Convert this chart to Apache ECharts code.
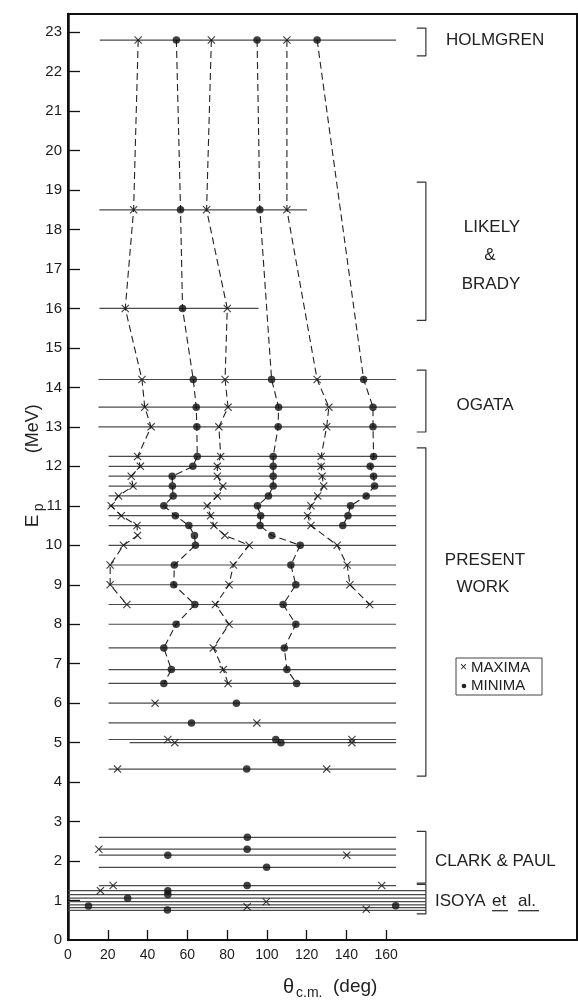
<!DOCTYPE html>
<html>
<head>
<meta charset="utf-8">
<script src="https://cdn.jsdelivr.net/npm/echarts@6/dist/echarts.min.js"></script>
<style>
html,body{margin:0;padding:0;background:#fff;}
#chart{width:578px;height:1000px;}
</style>
</head>
<body>
<div id="chart"></div>
<script>
// ---------------- data ----------------
const yTickValues = [0,1,2,3,4,5,6,7,8,9,10,11,12,13,14,15,16,17,18,19,20,21,22,23];
const xTickValues = [0,20,40,60,80,100,120,140,160];

// horizontal data lines: energy (MeV) and angular span (deg)
const holmgrenLevels = [22.8];
const holmgrenStart = [16];
const holmgrenEnd = [165];
const likelyLevels = [18.5, 16.0];
const likelyStart = [15.8, 15.8];
const likelyEnd = [120.2, 95.8];
const ogataLevels = [14.2, 13.5, 13.0];
const ogataStart = [15.3, 15.3, 15.3];
const ogataEnd = [165, 165, 165];
const presentLevels = [12.25,12.0,11.75,11.5,11.25,11.0,10.75,10.5,10.0,9.5,9.0,8.5,8.0,7.4,6.85,6.5,6.0,5.5,5.08,5.0,4.33];
const presentStart = [20.4,20.4,20.4,20.4,20.4,20.4,20.4,20.4,20.4,20.4,20.4,20.4,20.4,20.4,20.4,20.4,20.4,20.4,20.4,31,20.4];
const presentEnd = [165,165,165,165,165,165,165,165,165,165,165,165,165,165,165,165,165,165,165,165,165];
const clarkLevels = [2.6, 2.3, 2.15, 1.84, 1.38];
const clarkStart = [15.5, 15.5, 15.5, 15.5, 15.5];
const clarkEnd = [165, 165, 165, 165, 165];
const isoyaLevels = [1.25, 1.15, 1.06, 0.97, 0.89, 0.82, 0.75];
const isoyaStart = [0, 0, 0, 0, 0, 0, 0];
const isoyaEnd = [180, 180, 180, 180, 180, 180, 180];

// extrema branches (joined by dashed lines)
const branchE = [22.8,18.5,16.0,14.2,13.5,13.0,12.25,12.0,11.75,11.5,11.25,11.0,10.75,10.5,10.25,10.0,9.5,9.0,8.5,8.0,7.4,6.85,6.5];
const maxA1 = [35.3,33.0,28.8,37.2,38.6,41.8,35.0,36.4,31.8,32.7,25.4,21.7,26.8,34.7,35.0,27.9,21.2,21.2,29.6,null,null,null,null];
const minA1 = [54.5,56.6,57.6,63.0,64.5,64.8,65.0,62.8,52.4,52.5,52.9,48.2,54.0,60.8,63.6,64.1,53.5,53.2,63.8,54.4,48.2,52.0,48.2];
const maxA2 = [72.1,69.7,80.1,79.0,80.5,75.9,76.8,75.1,75.1,77.9,75.1,70.0,71.7,73.4,78.9,91.1,83.2,81.0,74.2,81.0,73.1,78.1,80.5];
const minA2 = [95.1,96.5,null,102.4,105.9,105.7,103.2,103.2,103.2,103.2,100.8,95.3,96.9,96.6,102.5,116.8,112.1,114.6,108.2,114.6,108.8,110.1,115.0];
const maxA3 = [110.1,110.1,null,125.3,131.2,130.1,127.3,127.3,127.8,128.6,125.6,122.2,120.5,122.2,null,135.4,140.4,141.8,151.7,null,null,null,null];
const minA3 = [125.3,null,null,148.7,153.4,153.4,153.7,152.0,153.7,154.2,150.0,142.1,140.8,138.2,null,null,null,null,null,null,null,null,null];
const parenMaxE = [11.0, 9.5, 9.0];   // maxima of branch 1 shown in parentheses

// isolated extrema
const loneMaxAngle = [43.8, 95.0, 50.2, 142.8, 53.7, 142.8, 24.9, 130.1];
const loneMaxE     = [6.0, 5.5, 5.08, 5.08, 5.0, 5.0, 4.33, 4.33];
const loneMinAngle = [84.7, 62.1, 104.5, 107.1, 89.9];
const loneMinE     = [6.0, 5.5, 5.08, 5.0, 4.33];
const clarkMaxAngle = [15.5, 140.2, 22.7, 157.8];
const clarkMaxE     = [2.3, 2.15, 1.38, 1.38];
const clarkMinAngle = [90.2, 90.1, 50.2, 99.9, 90.1];
const clarkMinE     = [2.6, 2.3, 2.15, 1.84, 1.38];
const isoyaMaxAngle = [16.3, 99.7, 90.1, 150.0];
const isoyaMaxE     = [1.25, 0.97, 0.84, 0.78];
const isoyaMinAngle = [50.2, 50.2, 30.0, 10.3, 164.8, 50.0];
const isoyaMinE     = [1.25, 1.15, 1.06, 0.86, 0.87, 0.76];

// group brackets: top and bottom energies
const bracketTop    = [23.1, 19.2, 14.44, 12.47, 2.75, 1.41];
const bracketBottom = [22.4, 15.7, 12.87, 4.15, 1.44, 0.66];
const bracketAngle  = [175.4, 180];

// group labels
const labelTexts = ['HOLMGREN','LIKELY','&','BRADY','OGATA','PRESENT','WORK','CLARK & PAUL','ISOYA'];
const labelE     = [22.8, 18.05, 17.35, 16.6, 13.55, 9.63, 8.94, 1.99, 0.97];
const legendTexts = ['MAXIMA', 'MINIMA'];

// ---------------- chart ----------------
const FONT = '"Liberation Sans", Arial, sans-serif';
const INK = '#1c1c1c';
const X_MAX = 256, Y_MAX = 23.46;
const CROSS = 'path://M1,0L5,4L9,0L10,1L6,5L10,9L9,10L5,6L1,10L0,9L4,5L0,1Z';

const chart = echarts.init(document.getElementById('chart'), null, {renderer: 'canvas'});
const series = [];

function addLevels(levels, starts, ends) {
  levels.forEach((e, i) => {
    series.push({
      type: 'line', silent: true, symbol: 'none', animation: false, z: 2,
      data: [[starts[i], e], [ends[i], e]],
      lineStyle: {width: 1.2, color: '#4a4a4a'}
    });
  });
}
addLevels(holmgrenLevels, holmgrenStart, holmgrenEnd);
addLevels(likelyLevels, likelyStart, likelyEnd);
addLevels(ogataLevels, ogataStart, ogataEnd);
addLevels(presentLevels, presentStart, presentEnd);
addLevels(clarkLevels, clarkStart, clarkEnd);
addLevels(isoyaLevels, isoyaStart, isoyaEnd);

const branches = [maxA1, minA1, maxA2, minA2, maxA3, minA3];
branches.forEach(arr => {
  const pts = [];
  arr.forEach((a, i) => { if (a !== null) pts.push([a, branchE[i]]); });
  series.push({
    type: 'line', silent: true, symbol: 'none', animation: false, z: 3,
    data: pts,
    lineStyle: {width: 1.1, color: '#222', type: [7, 4]}
  });
});

const maxPts = [], minPts = [], parenPts = [];
[maxA1, maxA2, maxA3].forEach(arr => arr.forEach((a, i) => { if (a !== null) maxPts.push([a, branchE[i]]); }));
[minA1, minA2, minA3].forEach(arr => arr.forEach((a, i) => { if (a !== null) minPts.push([a, branchE[i]]); }));
maxA1.forEach((a, i) => { if (a !== null && parenMaxE.includes(branchE[i])) parenPts.push([a, branchE[i]]); });
loneMaxAngle.forEach((a, i) => maxPts.push([a, loneMaxE[i]]));
clarkMaxAngle.forEach((a, i) => maxPts.push([a, clarkMaxE[i]]));
isoyaMaxAngle.forEach((a, i) => maxPts.push([a, isoyaMaxE[i]]));
loneMinAngle.forEach((a, i) => minPts.push([a, loneMinE[i]]));
clarkMinAngle.forEach((a, i) => minPts.push([a, clarkMinE[i]]));
isoyaMinAngle.forEach((a, i) => minPts.push([a, isoyaMinE[i]]));

series.push({type: 'scatter', silent: true, animation: false, z: 5, symbol: CROSS, symbolSize: 8,
  itemStyle: {color: '#111'}, data: maxPts});
series.push({type: 'scatter', silent: true, animation: false, z: 5, symbol: 'circle', symbolSize: 7.5,
  itemStyle: {color: '#111'}, data: minPts});
series.push({type: 'scatter', silent: true, animation: false, z: 6, symbol: 'none', symbolSize: 1,
  data: parenPts,
  label: {show: true, position: 'inside', formatter: '{p|(}{s|}{p|)}',
    rich: {p: {fontSize: 12, fontFamily: FONT, color: '#111'}, s: {width: 8}}}});

bracketTop.forEach((t, i) => {
  const b = bracketBottom[i];
  series.push({
    type: 'line', silent: true, symbol: 'none', animation: false, z: 2,
    data: [[bracketAngle[0], t], [bracketAngle[1], t], [bracketAngle[1], b], [bracketAngle[0], b]],
    lineStyle: {width: 1.2, color: '#333'}
  });
});

const option = {
  animation: false,
  backgroundColor: '#fff',
  grid: {left: 68, right: 1, top: 14, bottom: 60, show: true, borderColor: '#111', borderWidth: 2, backgroundColor: 'transparent'},
  xAxis: {
    type: 'value', min: 0, max: X_MAX, interval: 20,
    axisLine: {show: true, onZero: false, lineStyle: {color: '#111', width: 2}},
    axisTick: {show: true, inside: true, length: 10, lineStyle: {color: '#111', width: 1.3},
      customValues: xTickValues.filter(v => v > 0)},
    axisLabel: {show: true, customValues: xTickValues, margin: 8, fontSize: 14, fontFamily: FONT, color: INK},
    splitLine: {show: false}
  },
  yAxis: {
    type: 'value', min: 0, max: Y_MAX, interval: 1,
    axisLine: {show: true, onZero: false, lineStyle: {color: '#111', width: 2.5}},
    axisTick: {show: true, inside: true, length: 12, lineStyle: {color: '#111', width: 1.3},
      customValues: yTickValues.filter(v => v > 0)},
    axisLabel: {show: true, customValues: yTickValues, margin: 6, fontSize: 15, fontFamily: FONT, color: INK},
    splitLine: {show: false}
  },
  series: series
};
chart.setOption(option);

const py = e => chart.convertToPixel({gridIndex: 0}, [0, e])[1];
const txt = (text, x, y, size, align) => ({
  type: 'text', x: x, y: y, silent: true,
  style: {text: text, fontSize: size, fontFamily: FONT, fill: '#222', align: align || 'left', verticalAlign: 'middle'}
});
const labelX = [446, 492, 490, 491, 485, 485, 483, 435, 435];
const labelAlign = ['left','center','center','center','center','center','center','left','left'];
const graphics = labelTexts.map((t, i) => txt(t, labelX[i], py(labelE[i]), 17, labelAlign[i]));
// "et al." underlined
graphics.push(txt('et', 492, py(0.97), 17, 'left'));
graphics.push(txt('al.', 518, py(0.97), 17, 'left'));
graphics.push({type: 'line', silent: true, shape: {x1: 492, y1: py(0.97) + 9, x2: 508, y2: py(0.97) + 9}, style: {stroke: '#222', lineWidth: 1.2}});
graphics.push({type: 'line', silent: true, shape: {x1: 518, y1: py(0.97) + 9, x2: 539, y2: py(0.97) + 9}, style: {stroke: '#222', lineWidth: 1.2}});
// legend box
graphics.push({type: 'rect', silent: true, shape: {x: 456, y: 658, width: 86, height: 37},
  style: {fill: 'none', stroke: '#444', lineWidth: 1}});
graphics.push(txt('\u00d7', 460, 668, 12, 'left'));
graphics.push(txt(legendTexts[0], 471, 668, 15, 'left'));
graphics.push({type: 'circle', silent: true, shape: {cx: 464, cy: 686, r: 2.3}, style: {fill: '#222'}});
graphics.push(txt(legendTexts[1], 471, 686, 15, 'left'));
// y axis title (rotated, reading upward)
const yTitleX = 33;
graphics.push({type: 'text', x: yTitleX, y: py(10.62), rotation: Math.PI / 2, silent: true,
  style: {text: 'E', fontSize: 19, fontFamily: FONT, fill: '#222', align: 'center', verticalAlign: 'middle'}});
graphics.push({type: 'text', x: yTitleX + 6, y: py(10.86), rotation: Math.PI / 2, silent: true,
  style: {text: 'p', fontSize: 14, fontFamily: FONT, fill: '#222', align: 'left', verticalAlign: 'middle'}});
graphics.push({type: 'text', x: yTitleX, y: py(12.95), rotation: Math.PI / 2, silent: true,
  style: {text: '(MeV)', fontSize: 18, fontFamily: FONT, fill: '#222', align: 'center', verticalAlign: 'middle'}});
// x axis title
graphics.push(txt('\u03b8', 283, 987, 20, 'left'));
graphics.push(txt('c.m.', 296, 993, 14, 'left'));
graphics.push(txt('(deg)', 333, 987, 19, 'left'));
chart.setOption({graphic: graphics});
</script>
</body>
</html>
